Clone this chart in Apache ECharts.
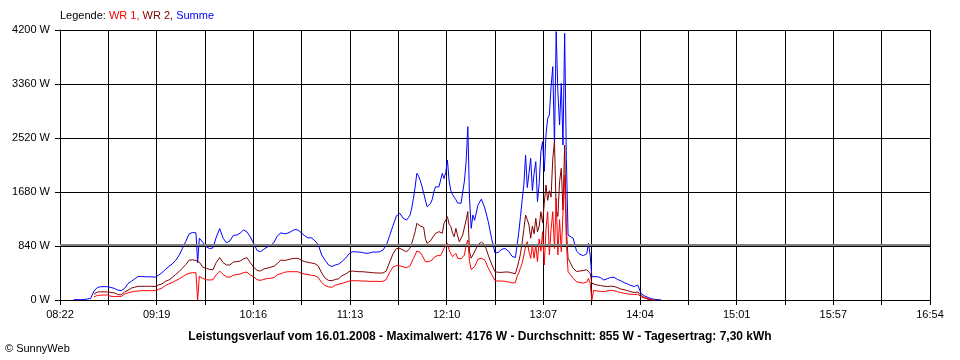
<!DOCTYPE html>
<html><head><meta charset="utf-8">
<script src="https://cdn.jsdelivr.net/npm/echarts/dist/echarts.min.js"></script>
<style>html,body{margin:0;padding:0;background:#fff}#c{width:960px;height:360px}</style>
</head><body><div id="c"></div>
<script>
// minutes after 08:22
const minutes = [8,10,12,14,16,18,19,
20,22,24,26,28,30,32,34,36,38,40,42,44,46,48,50,52,54,56,58,60,62,64,66,68,70,72,74,76,78,80,
81,
82,84,86,88,90,92,94,96,98,100,102,104,106,108,110,112,114,116,118,120,122,124,126,128,130,132,134,136,138,140,142,144,146,148,150,152,154,156,158,160,162,164,166,168,170,172,174,176,178,180,182,184,186,188,190,192,194,196,198,200,202,204,
205,206,207,208,209,210,211,212,213,214,215,216,217,218,219,220,221,222,223,224,225,226,227,228,229,230,231,232,233,234,235,236,237,238,239,240,241,242,243,
244,246,248,250,252,254,256,258,260,262,264,266,268,
269,270,271,272,273,274,275,276,277,278,279,280,281,282,283,284,285,286,287,288,289,290,291,292,293,294,295,296,297,298,299,300,
302,304,306,308,310,311,312,313,314,316,318,320,322,324,326,328,330,332,334,336,338,340,342,344,346,348,350,352,354];

const summe = [5,5,5,8,15,25,28,
140,195,207,207,207,195,180,155,145,180,255,290,330,365,365,362,360,360,355,385,425,475,520,560,615,690,800,910,1030,1050,1045,
580,
960,900,830,800,810,980,1110,960,890,920,1005,1011,1040,1090,1060,980,880,770,751,790,825,845,900,1000,1045,1030,1040,1065,1095,1090,1045,1000,965,968,920,860,700,620,545,520,544,560,600,650,715,750,750,745,740,726,730,745,745,750,775,850,1000,1160,1310,1348,1270,1244,
1280,1322,1430,1580,1760,1970,1930,1860,1770,1790,1560,1452,1480,1500,1560,1680,1760,1790,1760,1745,1970,1890,1980,2178,1850,1700,1640,1600,1560,1510,1504,1504,1530,1850,2150,2696,1580,1115,1322,
1240,1478,1570,1430,1220,960,730,742,790,800,760,680,660,
850,1050,1300,1560,1800,2250,1750,1970,2204,1700,1970,2152,1530,1815,2307,2463,2000,2567,2826,2878,3318,3630,2400,4176,3241,2722,3370,2411,4148,2200,1011,1000,
960,760,710,690,720,882,700,363,363,363,350,311,330,350,355,320,300,270,250,225,210,233,100,65,40,20,10,5,0];

const wr2 = [null,null,null,null,null,null,null,
90,125,127,127,125,118,110,85,80,125,150,185,200,213,213,213,213,213,210,235,250,290,310,350,395,440,495,550,620,625,615,
600,
590,510,495,475,470,585,660,580,545,545,590,596,605,640,660,580,510,460,452,485,495,510,525,570,622,615,625,640,648,648,620,596,586,575,565,530,420,340,305,300,320,330,380,400,440,450,445,440,440,435,430,425,420,420,420,450,590,720,800,804,775,752,
775,804,882,970,1063,1193,1218,1150,1180,1130,960,882,907,920,933,1000,1037,1050,1063,1055,1040,1193,1167,1296,1180,1141,1040,985,1115,1000,907,960,1011,1037,1244,1374,751,650,700,
680,860,900,860,700,560,440,430,430,435,435,420,410,
500,600,720,900,1100,1322,1250,1167,960,1150,1030,1270,1060,1150,1374,1200,1500,1789,1550,1700,1600,2204,2463,1400,1300,1841,2048,1400,2411,1100,648,630,
493,445,450,460,470,493,420,260,240,233,225,215,210,215,210,195,170,160,145,130,115,125,70,40,20,5,0,null,null];

const wr1 = [null,null,null,null,null,null,null,
50,72,75,78,78,57,55,55,55,95,110,125,135,140,145,145,145,145,145,165,185,225,250,270,300,325,360,395,415,425,425,
0,
370,335,315,311,315,395,450,395,360,355,385,395,404,425,435,390,360,315,305,320,335,337,350,395,410,430,440,440,440,440,415,404,395,385,378,350,270,225,205,197,230,245,259,275,295,300,300,298,295,295,290,290,290,288,290,320,430,515,534,534,515,503,
515,530,590,648,700,762,750,740,700,650,596,571,596,610,622,660,674,690,700,690,674,804,778,882,780,720,674,648,726,648,622,640,622,700,855,933,600,470,440,
520,635,650,620,500,400,300,295,295,290,280,265,270,
370,420,500,570,700,830,907,751,648,855,650,855,596,950,760,1063,544,1100,1374,700,1100,1374,800,1582,700,1250,750,1350,1944,900,440,420,
337,285,270,262,280,337,260,0,150,140,135,130,140,150,145,130,115,105,95,90,85,90,50,30,12,3,0,null,null];

const tickLabels = ['08:22','09:19','10:16','11:13','12:10','13:07','14:04','15:01','15:57','16:54'];
const xSpan = 512;          // 08:22 -> 16:54 in minutes
const yMax = 4200, yStep = 840;
const average = 855;
const titleText = 'Leistungsverlauf vom 16.01.2008 - Maximalwert: 4176 W - Durchschnitt: 855 W - Tagesertrag: 7,30 kWh';

const FONT = 'Liberation Sans, Arial, sans-serif';
const xStep = xSpan / 18;

function pairs(arr){ return minutes.map((m,i)=>[m, arr[i]]); }

const chart = echarts.init(document.getElementById('c'), null, {renderer:'canvas'});
chart.setOption({
  animation:false,
  backgroundColor:'#fff',
  grid:{left:60, top:30, width:870, height:270, show:false},
  xAxis:{
    type:'value', min:0, max:xSpan, interval:xStep,
    axisLine:{show:true, lineStyle:{color:'#000', width:1}},
    axisTick:{show:true, length:5, lineStyle:{color:'#000', width:1}},
    splitLine:{show:true, lineStyle:{color:'#000', width:1}},
    axisLabel:{margin:9, fontSize:11, fontFamily:FONT, color:'#000',
      showMinLabel:true, showMaxLabel:true,
      formatter:function(v){ const i=Math.round(v/xStep); return i%2===0 ? (tickLabels[i/2]||'') : ''; }}
  },
  yAxis:{
    type:'value', min:0, max:yMax, interval:yStep,
    axisLine:{show:true, lineStyle:{color:'#000', width:1}},
    axisTick:{show:true, length:5, lineStyle:{color:'#000', width:1}},
    splitLine:{show:true, lineStyle:{color:'#000', width:1}},
    axisLabel:{margin:10, fontSize:11, fontFamily:FONT, color:'#000',
      formatter:function(v){ return String(Math.round(v)) + ' W'; }}
  },
  series:[
    {name:'Summe', type:'line', data:pairs(summe), showSymbol:false, symbol:'none', silent:true,
     lineStyle:{color:'#0000ff', width:1}, itemStyle:{color:'#0000ff'},
     markLine:{silent:true, symbol:'none', label:{show:false},
       lineStyle:{color:'#808080', width:2, type:'solid'}, data:[{yAxis:average}]}},
    {name:'WR 2', type:'line', data:pairs(wr2), showSymbol:false, symbol:'none', silent:true,
     lineStyle:{color:'#800000', width:1}, itemStyle:{color:'#800000'}},
    {name:'WR 1', type:'line', data:pairs(wr1), showSymbol:false, symbol:'none', silent:true,
     lineStyle:{color:'#ff0000', width:1}, itemStyle:{color:'#ff0000'}}
  ],
  graphic:[
    {type:'text', left:60, top:10, style:{
      text:'{k|Legende: }{a|WR 1, }{b|WR 2, }{c|Summe}',
      rich:{
        k:{fill:'#000', font:'11px '+FONT},
        a:{fill:'#ff0000', font:'11px '+FONT},
        b:{fill:'#800000', font:'11px '+FONT},
        c:{fill:'#0000ff', font:'11px '+FONT}
      }}},
    {type:'text', x:480, y:337, style:{text:titleText, fill:'#000', font:'bold 12px '+FONT,
      textAlign:'center', textVerticalAlign:'middle'}},
    {type:'text', x:5, y:349, style:{text:'\u00a9 SunnyWeb', fill:'#000', font:'11px '+FONT,
      textAlign:'left', textVerticalAlign:'middle'}}
  ]
});
</script>
</body></html>
